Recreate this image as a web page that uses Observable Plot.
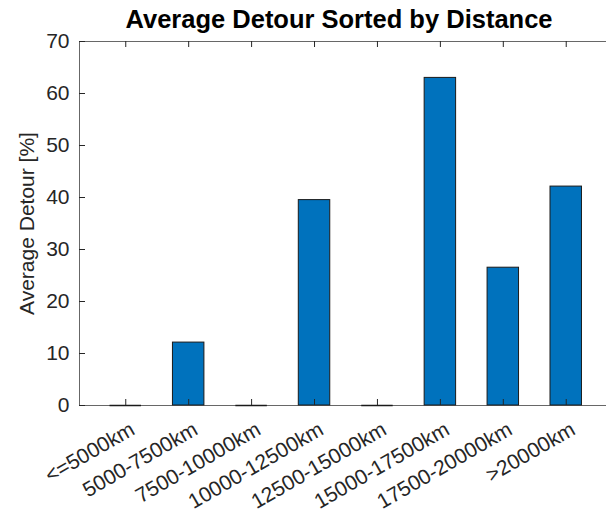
<!DOCTYPE html>
<html>
<head>
<meta charset="utf-8">
<script src="https://cdn.jsdelivr.net/npm/d3@7"></script>
<script src="https://cdn.jsdelivr.net/npm/@observablehq/plot@0.6"></script>
<style>
  html, body { margin: 0; padding: 0; background: #fff; overflow: hidden; }
</style>
</head>
<body>
<div id="chart"></div>
<script>
// Distance classes and the average detour (in percent) for each
const categories = ["<=5000km", "5000-7500km", "7500-10000km", "10000-12500km",
                    "12500-15000km", "15000-17500km", "17500-20000km", ">20000km"];
const detour = [0, 12.1, 0, 39.5, 0, 63, 26.5, 42.1];
const yTicks = [0, 10, 20, 30, 40, 50, 60, 70];
const yDomain = [0, 70];
const xDomain = [0.265, 8.64];

const titleText = "Average Detour Sorted by Distance";
const yLabelText = "Average Detour [%]";

const rows = categories.map((label, i) => ({pos: i + 1, label, value: detour[i]}));

// layout
const W = 606, H = 517;
const mTop = 41, mBottom = 112, mLeft = 79, mRight = 0;
const frameW = W - mLeft - mRight;
const frameH = H - mTop - mBottom;
const tickLen = 6;
const barHalf = 0.25;
const axisColor = "#262626";
const font = "'Liberation Sans', Arial, Helvetica, sans-serif";

const chart = Plot.plot({
  width: W,
  height: H,
  marginTop: mTop,
  marginBottom: mBottom,
  marginLeft: mLeft,
  marginRight: mRight,
  style: {fontFamily: font, fontSize: "21px", color: axisColor, background: "#fff", overflow: "hidden"},
  x: {type: "linear", domain: xDomain, axis: null},
  y: {domain: yDomain, axis: null},
  marks: [
    // bars
    Plot.rectY(rows, {
      x1: d => d.pos - barHalf, x2: d => d.pos + barHalf,
      y1: 0, y2: "value",
      fill: "#0072BD", stroke: "#1a1a1a", strokeWidth: 1
    }),
    // box lines (left, bottom, top)
    Plot.ruleY([yDomain[0], yDomain[1]], {stroke: axisColor, strokeWidth: 1, strokeOpacity: 0.7}),
    Plot.ruleX([xDomain[0]], {stroke: axisColor, strokeWidth: 1, strokeOpacity: 0.7}),
    // edge of the empty (zero-height) bars along the baseline
    Plot.ruleY(rows.filter(d => d.value === 0), {
      y: "value", x1: d => d.pos - barHalf, x2: d => d.pos + barHalf,
      stroke: "#1a1a1a", strokeWidth: 1.5
    }),
    // inward ticks on bottom and top edges
    Plot.tickX(rows, {x: "pos", insetTop: frameH - tickLen, stroke: axisColor, strokeWidth: 1}),
    Plot.tickX(rows, {x: "pos", insetBottom: frameH - tickLen, stroke: axisColor, strokeWidth: 1}),
    // inward ticks on left edge
    Plot.tickY(yTicks, {y: d => d, insetRight: frameW - tickLen, stroke: axisColor, strokeWidth: 1}),
    // y tick labels
    Plot.axisY(yTicks, {tickSize: 0, tickPadding: 10, fontSize: 21, fill: axisColor, label: null}),
    // rotated category labels
    Plot.text(rows, {
      x: "pos", text: "label", frameAnchor: "bottom",
      rotate: -30, textAnchor: "end", lineAnchor: "top",
      dx: 3, dy: 15, fontSize: 21, fill: axisColor
    }),
    // y axis title
    Plot.text([yLabelText], {
      frameAnchor: "left", rotate: -90, dx: -52,
      textAnchor: "middle", lineAnchor: "middle",
      fontSize: 21, fill: axisColor
    }),
    // chart title
    Plot.text([titleText], {
      frameAnchor: "top", dy: -22, dx: -4,
      textAnchor: "middle", lineAnchor: "middle",
      fontSize: 25.5, fontWeight: "bold", fill: "#000"
    })
  ]
});

document.getElementById("chart").appendChild(chart);
</script>
</body>
</html>
